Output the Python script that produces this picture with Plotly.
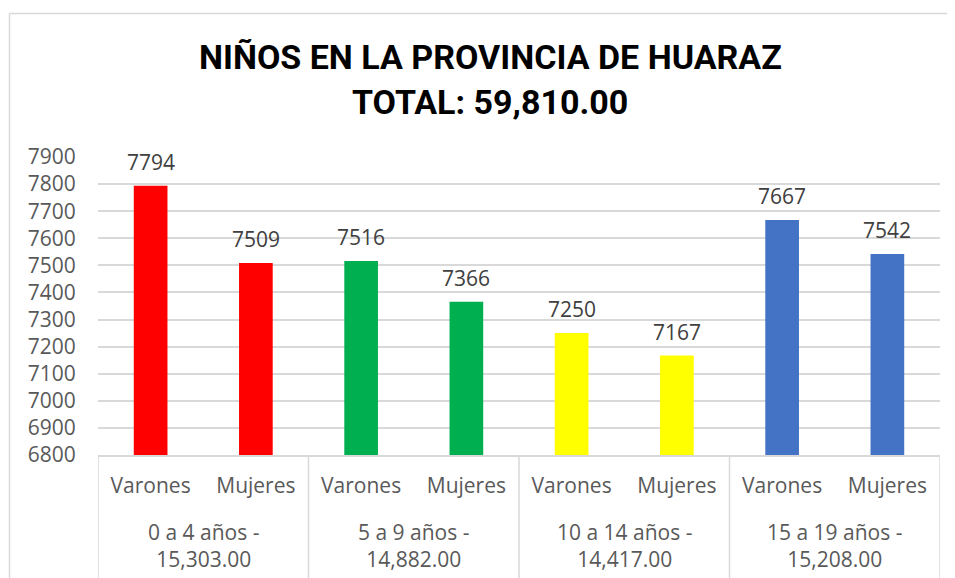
import plotly.graph_objects as go

title_line1 = "NIÑOS EN LA PROVINCIA DE HUARAZ"
title_line2 = "TOTAL: 59,810.00"
groups = ["0 a 4 años -<br>15,303.00", "5 a 9 años -<br>14,882.00",
          "10 a 14 años -<br>14,417.00", "15 a 19 años -<br>15,208.00"]
subcats = ["Varones", "Mujeres"] * 4
values = [7794, 7509, 7516, 7366, 7250, 7167, 7667, 7542]
group_colors = ["#FF0000", "#00B050", "#FFFF00", "#4472C4"]
y_range = [6800, 7900]

# page body has an 8px margin: figure pixel = screen pixel - 8
OFF = 8
W, H = 955 - OFF, 578 - OFF
ML, MR, MT, MB = 98 - OFF, W - (940 - OFF), 157 - OFF, H - (455 - OFF)
PW, PH = W - ML - MR, H - MT - MB

def px_to_paper_x(px):
    return (px - OFF - ML) / PW

def px_to_paper_y(py):
    return (H - MB - (py - OFF)) / PH

idx = list(range(len(values)))
colors = [group_colors[i // 2] for i in idx]

fig = go.Figure(go.Bar(
    x=idx, y=values, marker=dict(color=colors, line=dict(width=0)),
    width=0.32, hoverinfo="skip",
))

font_main = dict(family="Open Sans", size=21, color="#595959")
title_font = dict(family="Roboto", size=34, color="#000000")

annotations = [
    dict(text="<b>%s</b>" % title_line1, x=px_to_paper_x(490), y=px_to_paper_y(57),
         xref="paper", yref="paper", showarrow=False, xanchor="center", yanchor="middle",
         font=title_font),
    dict(text="<b>%s</b>" % title_line2, x=px_to_paper_x(490), y=px_to_paper_y(102),
         xref="paper", yref="paper", showarrow=False, xanchor="center", yanchor="middle",
         font=title_font),
]
# value labels above bars
for i, v in zip(idx, values):
    annotations.append(dict(text=str(v), x=i, y=v, xref="x", yref="y",
                            showarrow=False, xanchor="center", yanchor="bottom",
                            yshift=8, font=dict(family="Open Sans", size=21, color="#404040")))
for g, label in enumerate(groups):
    annotations.append(dict(text=label, x=2 * g + 0.5, y=px_to_paper_y(545),
                            xref="x", yref="paper", showarrow=False,
                            xanchor="center", yanchor="middle", font=font_main))

shapes = []
for b in [-0.5, 1.5, 3.5, 5.5, 7.5]:
    shapes.append(dict(type="line", xref="x", yref="paper", x0=b, x1=b,
                       y0=0, y1=px_to_paper_y(600), line=dict(color="#D9D9D9", width=1.5)))
# chart frame
shapes.append(dict(type="line", xref="paper", yref="paper",
                   x0=px_to_paper_x(9.5), x1=px_to_paper_x(9.5),
                   y0=px_to_paper_y(13.5), y1=px_to_paper_y(600),
                   line=dict(color="#D9D9D9", width=1.5)))
shapes.append(dict(type="line", xref="paper", yref="paper",
                   x0=px_to_paper_x(9.5), x1=px_to_paper_x(970),
                   y0=px_to_paper_y(13.5), y1=px_to_paper_y(13.5),
                   line=dict(color="#D9D9D9", width=1.5)))

fig.update_layout(
    width=W, height=H, margin=dict(l=ML, r=MR, t=MT, b=MB),
    paper_bgcolor="white", plot_bgcolor="white", showlegend=False,
    annotations=annotations, shapes=shapes,
    xaxis=dict(range=[-0.5, 7.5], tickmode="array", tickvals=idx, ticktext=subcats,
               tickfont=font_main, showgrid=False, zeroline=False,
               showline=True, linecolor="#D9D9D9", linewidth=1.5,
               ticks="outside", ticklen=11, tickcolor="rgba(0,0,0,0)", fixedrange=True),
    yaxis=dict(range=y_range, dtick=100, tick0=6800, tickfont=font_main,
               showgrid=True, gridcolor="#D9D9D9", gridwidth=1.5, zeroline=False,
               showline=False, ticks="outside", ticklen=17, tickcolor="rgba(0,0,0,0)",
               fixedrange=True),
)

fig.write_html("out.html")
